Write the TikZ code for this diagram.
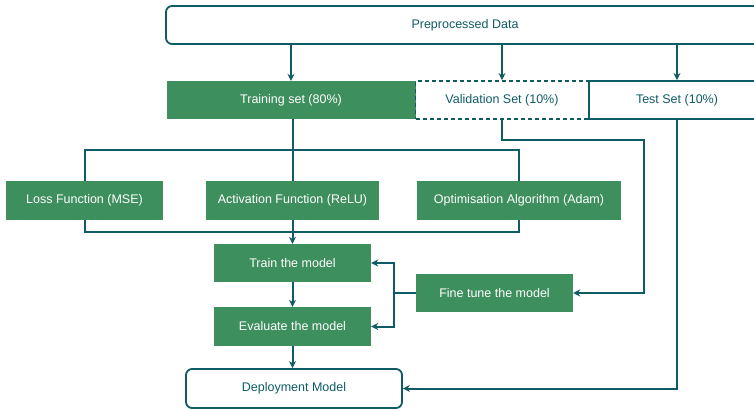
\documentclass[tikz,border=0pt]{standalone}
\usepackage{fontspec}
\setmainfont{Liberation Sans}
\usetikzlibrary{arrows.meta,backgrounds}
\definecolor{tealc}{RGB}{16,92,102}
\definecolor{greenc}{RGB}{61,143,94}
\begin{document}
\begin{tikzpicture}[x=1pt,y=-1pt,
  txt/.style={font=\fontsize{12.5}{14}\selectfont},
  gbox/.style={txt, draw=none, fill=greenc, text=white, minimum height=38pt, inner sep=0pt},
  obox/.style={txt, draw=tealc, line width=1.8pt, fill=white, text=tealc, minimum height=38pt, inner sep=0pt},
  conn/.style={draw=tealc, line width=2pt},
  arr/.style={conn, -{Stealth[length=7pt,width=7pt]}}
]
\useasboundingbox (0,0) rectangle (754,410);
\clip (0,0) rectangle (754,410);

\node[obox, rounded corners=6pt, minimum width=598pt] (pre) at (465,25) {Preprocessed Data};
\node[gbox, minimum width=249pt] (trs) at (291,100) {Training set (80\%)};
\node[obox, dash pattern=on 4pt off 3pt, minimum width=173pt] (val) at (502,100) {Validation Set (10\%)};
\node[obox, minimum width=176pt] (tst) at (677,100) {Test Set (10\%)};

\node[gbox, minimum width=157pt, minimum height=39pt] (loss) at (84.5,200.5) {Loss Function (MSE)};
\node[gbox, minimum width=173pt, minimum height=39pt] (act) at (292.5,200.5) {Activation Function (ReLU)};
\node[gbox, minimum width=204pt, minimum height=39pt] (opt) at (519,200.5) {Optimisation Algorithm (Adam)};

\node[gbox, minimum width=157pt] (trm) at (292.5,263) {Train the model};
\node[gbox, minimum width=157pt, minimum height=39pt] (evm) at (292.5,326.5) {Evaluate the model};
\node[gbox, minimum width=157pt] (fin) at (494.5,293) {Fine tune the model};
\node[obox, rounded corners=6pt, minimum width=216pt, minimum height=39pt] (dep) at (294,388.5) {Deployment Model};

\coordinate (ht) at (292.5,150);
\coordinate (hb) at (292.5,232);
\coordinate (fj) at (394,293);
\coordinate (vt) at (644,140);

\begin{scope}[on background layer]
  \draw[conn] (loss.center) |- (ht) -| (opt.center);
  \draw[conn] (loss.center) |- (hb) -| (opt.center);
\end{scope}

\draw[arr] (trs.north |- pre.south) -- (trs.north);
\draw[arr] (val.north |- pre.south) -- (val.north);
\draw[arr] (tst.north |- pre.south) -- (tst.north);

\draw[conn] (act.north |- trs.south) -- (act.north);
\draw[arr] (act.south) -- (trm.north);
\draw[arr] (trm.south) -- (evm.north);
\draw[arr] (evm.south) -- (evm.south |- dep.north);

\draw[conn] (fin.west) -- (fj);
\draw[arr] (fj) |- (trm.east);
\draw[arr] (fj) |- (evm.east);

\draw[arr] (val.south) |- (vt) |- (fin.east);
\draw[arr] (tst.south) |- (dep.east);
\end{tikzpicture}
\end{document}
